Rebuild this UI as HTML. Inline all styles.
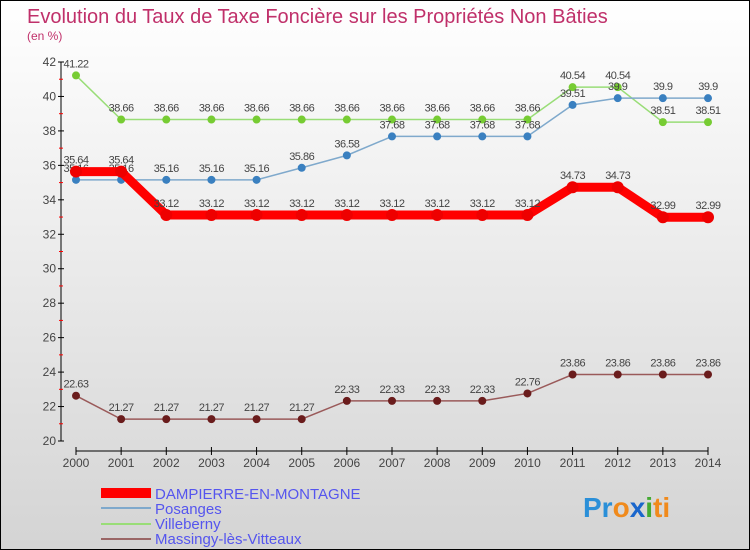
<!DOCTYPE html>
<html><head><meta charset="utf-8"><style>
body{margin:0}
#c{width:748px;height:548px;border:1px solid #000;background:linear-gradient(#fff,#d4d4d4);position:relative;font-family:"Liberation Sans",sans-serif;overflow:hidden}
</style></head><body>
<div id="c">
<svg id="s" width="748" height="548" xmlns="http://www.w3.org/2000/svg">
<text x="26" y="22" font-size="20" fill="#c0306a">Evolution du Taux de Taxe Foncière sur les Propriétés Non Bâties</text>
<text x="26" y="39" font-size="12" fill="#c0306a">(en %)</text>
<g id="axes"></g><g id="series"></g>
<g>
<rect x="100" y="487" width="50" height="10" fill="#f00"/>
<text x="154" y="498" font-size="15" fill="#5555ee">DAMPIERRE-EN-MONTAGNE</text>
<line x1="100" y1="507" x2="150" y2="507" stroke="#7fa9cc" stroke-width="2"/>
<text x="154" y="513" font-size="15" fill="#5555ee">Posanges</text>
<line x1="100" y1="523" x2="150" y2="523" stroke="#99dd77" stroke-width="2"/>
<text x="154" y="528" font-size="15" fill="#5555ee">Villeberny</text>
<line x1="100" y1="538" x2="150" y2="538" stroke="#9a6666" stroke-width="2"/>
<text x="154" y="543" font-size="15" fill="#5555ee">Massingy-lès-Vitteaux</text>
</g>
<g font-size="28" font-weight="bold">
<text x="582" y="516"><tspan fill="#2a8fd8">Pr</tspan><tspan fill="#f08a1c">o</tspan><tspan fill="#1a66cc">x</tspan><tspan fill="#44aa33">i</tspan><tspan fill="#f08a1c">ti</tspan></text>
</g>
</svg>
</div>
<script>
const years=[2000,2001,2002,2003,2004,2005,2006,2007,2008,2009,2010,2011,2012,2013,2014];
const yTicks=[20,22,24,26,28,30,32,34,36,38,40,42];
const dampierre=[35.64,35.64,33.12,33.12,33.12,33.12,33.12,33.12,33.12,33.12,33.12,34.73,34.73,32.99,32.99];
const posanges=[35.16,35.16,35.16,35.16,35.16,35.86,36.58,37.68,37.68,37.68,37.68,39.51,39.9,39.9,39.9];
const villeberny=[41.22,38.66,38.66,38.66,38.66,38.66,38.66,38.66,38.66,38.66,38.66,40.54,40.54,38.51,38.51];
const massingy=[22.63,21.27,21.27,21.27,21.27,21.27,22.33,22.33,22.33,22.33,22.76,23.86,23.86,23.86,23.86];
const NS="http://www.w3.org/2000/svg";
const X=y=>75+(y-2000)*(632/14);
const Y=v=>440-(v-20)*(379/22);
function mk(t,a,p){const e=document.createElementNS(NS,t);for(const k in a)e.setAttribute(k,a[k]);p.appendChild(e);return e;}
const ax=document.getElementById('axes');
let l=mk('line',{x1:60,y1:Y(42),x2:60,y2:Y(20),stroke:'#000'},ax);


yTicks.forEach(v=>{mk('line',{x1:57,x2:63,y1:Y(v),y2:Y(v),stroke:'#000'},ax);
const t=mk('text',{x:55,y:Y(v)+4,'font-size':12,fill:'#444','text-anchor':'end'},ax);t.textContent=v;


if(v<42)mk('line',{x1:58,x2:62,y1:Y(v+1),y2:Y(v+1),stroke:'#f00'},ax);});
l=mk('line',{x1:X(2000),y1:450,x2:X(2014),y2:450,stroke:'#000'},ax);


years.forEach(y=>{mk('line',{x1:X(y),x2:X(y),y1:446,y2:454,stroke:'#000'},ax);
const t=mk('text',{x:X(y),y:466,'font-size':12,fill:'#444','text-anchor':'middle'},ax);t.textContent=y;

});
const sg=document.getElementById('series');
function series(name,data,col,w,dot,r){
const g=mk('g',{},sg);


const p=mk('polyline',{points:data.map((v,i)=>X(years[i])+','+Y(v)).join(' '),fill:'none',stroke:col,'stroke-width':w},g);


data.forEach((v,i)=>{const c=mk('circle',{cx:X(years[i]),cy:Y(v),r:r,fill:dot},g);


const t=mk('text',{x:X(years[i]),y:Y(v)-8,'font-size':11,fill:'#444','text-anchor':'middle','letter-spacing':'-0.5'},g);t.textContent=v;

});}
series('massingy',massingy,'#9a5a5a',1.5,'#6a1c1c',4);
series('villeberny',villeberny,'#99dd77',1.5,'#77cc33',4);
series('posanges',posanges,'#7fa9cc',1.5,'#3a80c0',4);
series('dampierre',dampierre,'#f00',9,'#e00',6);
</script>
</body></html>
